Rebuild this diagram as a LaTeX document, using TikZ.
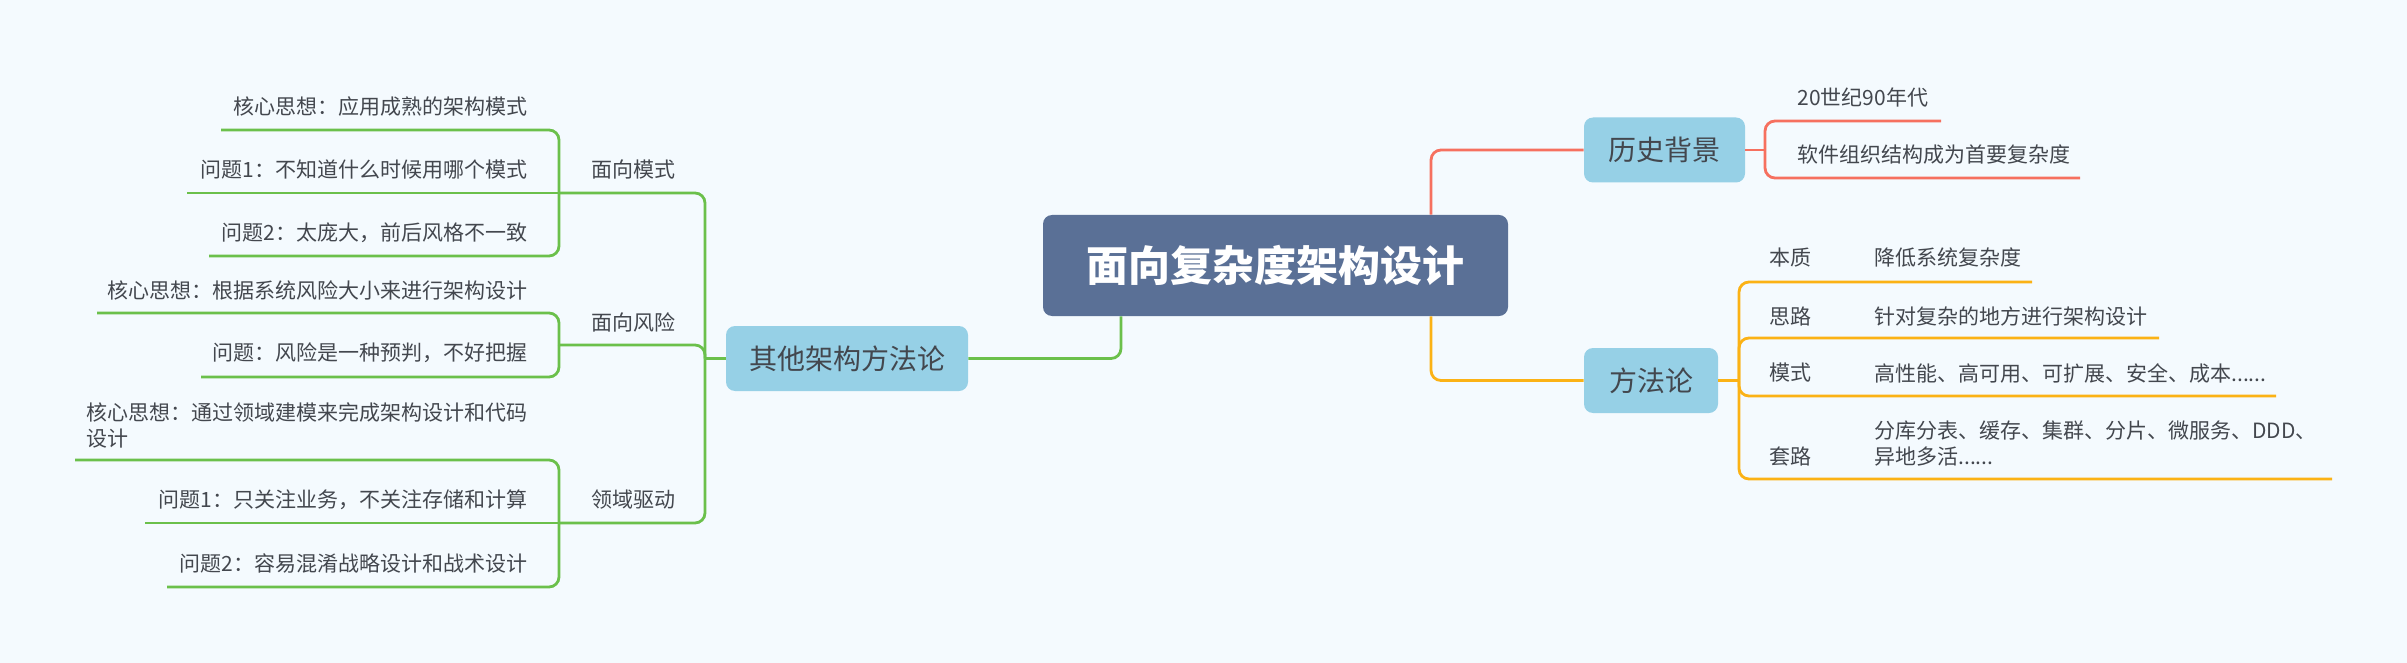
\documentclass[tikz,border=0pt]{standalone}
\usepackage{fontspec}
\newfontfamily\cjk{Noto Sans CJK SC}
\definecolor{bgc}{HTML}{F4FAFE}
\definecolor{rootc}{HTML}{5A7096}
\definecolor{topicc}{HTML}{96D0E6}
\definecolor{txtc}{HTML}{43474E}
\definecolor{greenc}{HTML}{6BC04B}
\definecolor{redc}{HTML}{F6705F}
\definecolor{yellowc}{HTML}{FBB215}
\tikzset{
  rootbox/.style={fill=rootc, rounded corners=4.5pt, minimum width=232.5pt, minimum height=50.5pt, inner sep=0pt, text=white, font=\cjk\bfseries\fontsize{21}{25}\selectfont},
  topicbox/.style={fill=topicc, rounded corners=4.5pt, minimum height=32.5pt, inner sep=0pt, text=txtc, font=\cjk\fontsize{14}{17}\selectfont},
  leaf/.style={inner sep=0pt, text=txtc, font=\cjk\fontsize{10.5}{13}\selectfont},
  gline/.style={draw=greenc, line width=1.4pt, rounded corners=5pt},
  rline/.style={draw=redc, line width=1.4pt, rounded corners=5pt},
  yline/.style={draw=yellowc, line width=1.4pt, rounded corners=5pt},
}
\begin{document}
\begin{tikzpicture}[x=0.5pt,y=-0.5pt]
\fill[bgc] (0,0) rectangle (2407,663);
\useasboundingbox (0,0) rectangle (2407,663);

% ---------- boxes ----------
\node[rootbox] (root) at (1275.5,265.5) {面向复杂度架构设计};
\node[topicbox, minimum width=80.5pt] (hist) at (1664.5,150) {历史背景};
\node[topicbox, minimum width=67pt] (meth) at (1651,380.5) {方法论};
\node[topicbox, minimum width=121pt] (other) at (847,358.5) {其他架构方法论};

% ---------- main connectors ----------
\draw[rline] ([xshift=77.75pt]root.north) |- (hist.west);
\draw[yline] ([xshift=77.75pt]root.south) |- (meth.west);
\draw[gline] ([xshift=-77.25pt]root.south) |- (other.east);

% ---------- history ----------
\coordinate (hj) at (1765,150);
\coordinate (h1e) at (1941,121);
\coordinate (h2e) at (2080,178);
\draw[rline] (hist.east) -- (hj);
\draw[rline] (hj) |- (h1e);
\draw[rline] (hj) |- (h2e);
\node[leaf, anchor=west] (h1) at (1797,98) {20世纪90年代};
\node[leaf, anchor=west] (h2) at (1797,155) {软件组织结构成为首要复杂度};

% ---------- methodology ----------
\coordinate (mj) at (1739,380.5);
\coordinate (b1e) at (2032,282);
\coordinate (b2e) at (2159,338);
\coordinate (b3e) at (2276,396);
\coordinate (b4e) at (2332,479);
\draw[yline] (meth.east) -- (mj);
\draw[yline] (mj) |- (b1e);
\draw[yline] (mj) |- (b2e);
\draw[yline] (mj) |- (b3e);
\draw[yline] (mj) |- (b4e);
\node[leaf, anchor=west] (k1) at (1769,258) {本质};
\node[leaf, anchor=west] (v1) at (1874,258) {降低系统复杂度};
\node[leaf, anchor=west] (k2) at (1769,316) {思路};
\node[leaf, anchor=west] (v2) at (1874,316) {针对复杂的地方进行架构设计};
\node[leaf, anchor=west] (k3) at (1769,373) {模式};
\node[leaf, anchor=west] (v3) at (1874,373) {高性能、高可用、可扩展、安全、成本......};
\node[leaf, anchor=west] (k4) at (1769,457) {套路};
\node[leaf, anchor=west, align=left] (v4) at (1874,443.5) {分库分表、缓存、集群、分片、微服务、DDD、\\异地多活......};

% ---------- other methodologies ----------
\coordinate (oj) at (705,358.5);
\coordinate (p1) at (559,193);
\coordinate (p2) at (559,345);
\coordinate (p3) at (559,523);
\draw[gline] (other.west) -- (oj);
\draw[gline] (oj) |- (p1);
\draw[gline] (oj) |- (p2);
\draw[gline] (oj) |- (p3);
\node[leaf] (t1) at (633,170) {面向模式};
\node[leaf] (t2) at (633,322) {面向风险};
\node[leaf] (t3) at (633,500) {领域驱动};

% children of 面向模式
\coordinate (p1a) at (221,130);
\coordinate (p1b) at (187,193);
\coordinate (p1c) at (209,256);
\draw[gline] (p1) |- (p1a);
\draw[gline] (p1) -- (p1b);
\draw[gline] (p1) |- (p1c);
\node[leaf, anchor=east] (l1) at (528,107) {核心思想：应用成熟的架构模式};
\node[leaf, anchor=east] (l2) at (528,170) {问题1：不知道什么时候用哪个模式};
\node[leaf, anchor=east] (l3) at (528,233) {问题2：太庞大，前后风格不一致};

% children of 面向风险
\coordinate (p2a) at (97,313);
\coordinate (p2b) at (201,377);
\draw[gline] (p2) |- (p2a);
\draw[gline] (p2) |- (p2b);
\node[leaf, anchor=east] (l4) at (528,290) {核心思想：根据系统风险大小来进行架构设计};
\node[leaf, anchor=east] (l5) at (528,353) {问题：风险是一种预判，不好把握};

% children of 领域驱动
\coordinate (p3a) at (75,460);
\coordinate (p3b) at (145,523);
\coordinate (p3c) at (167,587);
\draw[gline] (p3) |- (p3a);
\draw[gline] (p3) -- (p3b);
\draw[gline] (p3) |- (p3c);
\node[leaf, anchor=west, align=left] (l6) at (86,425) {核心思想：通过领域建模来完成架构设计和代码\\设计};
\node[leaf, anchor=east] (l7) at (528,500) {问题1：只关注业务，不关注存储和计算};
\node[leaf, anchor=east] (l8) at (528,563) {问题2：容易混淆战略设计和战术设计};
\end{tikzpicture}
\end{document}
